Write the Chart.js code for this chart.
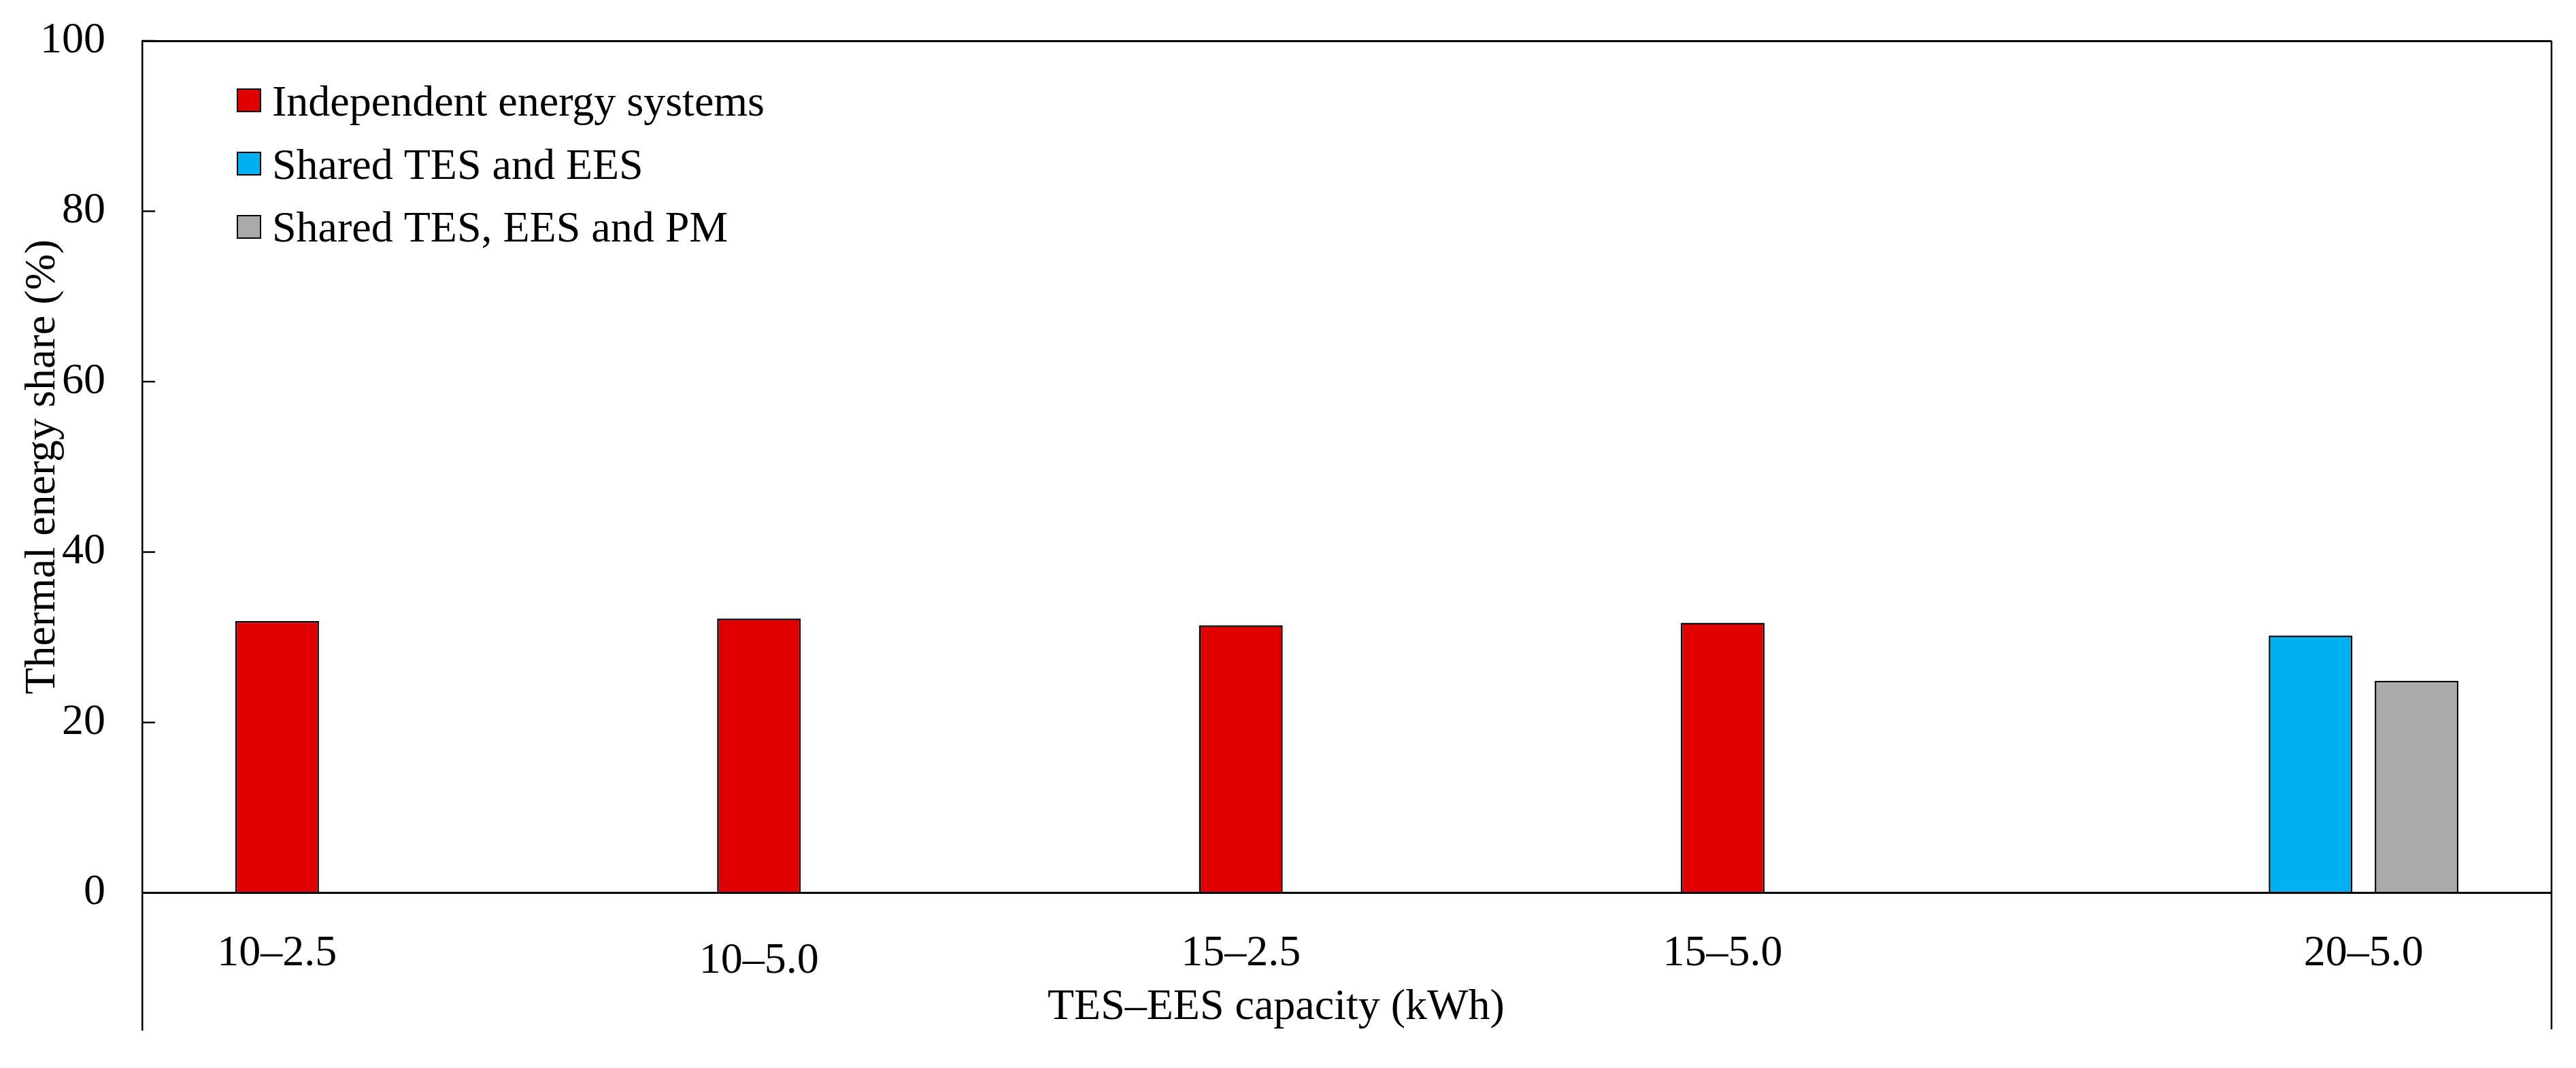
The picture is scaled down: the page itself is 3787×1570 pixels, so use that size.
<!DOCTYPE HTML>
<html>
<head>
	<title>Thermal energy share</title>
	<meta charset="utf-8" />
	<script src="https://cdn.jsdelivr.net/npm/chart.js"></script>
	<style>
		html, body { margin: 0; padding: 0; background: #fff; }
		canvas { display: block; }
	</style>
</head>
<body>
	<canvas id="shareChart" width="3787" height="1570"></canvas>
	<script>
		// values
		const categories = ['10\u20132.5', '10\u20135.0', '15\u20132.5', '15\u20135.0', '20\u20135.0'];
		const independentSystems = [31.9, 32.2, 31.4, 31.7, null];
		const sharedTesEes = [null, null, null, null, 30.2];
		const sharedTesEesPm = [null, null, null, null, 24.9];
		const yTicks = [0, 20, 40, 60, 80, 100];

		const FONT = '64px "Liberation Serif", "Times New Roman", serif';

		// category labels sit under the bars that actually have a value
		const barLabels = {
			id: 'barLabels',
			afterDraw(chart, args, opts) {
				const { ctx } = chart;
				const y0 = chart.scales.y.getPixelForValue(0);
				ctx.save();
				ctx.font = FONT;
				ctx.fillStyle = '#000';
				ctx.textAlign = 'center';
				ctx.textBaseline = 'alphabetic';
				categories.forEach(function (label, i) {
					const xs = [];
					chart.data.datasets.forEach(function (ds, d) {
						if (ds.data[i] !== null) xs.push(chart.getDatasetMeta(d).data[i].x);
					});
					const x = xs.reduce((a, b) => a + b, 0) / xs.length;
					ctx.fillText(label, x, y0 + 106 + (opts.dy[i] || 0));
				});
				ctx.restore();
			}
		};

		const frameAndTitles = {
			id: 'frameAndTitles',
			afterDraw(chart) {
				const { ctx, chartArea } = chart;
				const yScale = chart.scales.y;
				ctx.save();
				ctx.strokeStyle = '#000';

				// inward tick marks on the left axis
				ctx.lineWidth = 2.5;
				yTicks.forEach(function (v) {
					const y = yScale.getPixelForValue(v);
					ctx.beginPath();
					ctx.moveTo(chartArea.left, y);
					ctx.lineTo(chartArea.left + 19, y);
					ctx.stroke();
				});

				// right border
				ctx.lineWidth = 2.5;
				ctx.beginPath();
				ctx.moveTo(chartArea.right, chartArea.top);
				ctx.lineTo(chartArea.right, chartArea.bottom);
				ctx.stroke();

				ctx.font = FONT;
				ctx.fillStyle = '#000';
				ctx.textBaseline = 'alphabetic';

				// x title
				ctx.textAlign = 'center';
				ctx.fillText('TES\u2013EES capacity (kWh)',
					chartArea.left + 0.4706 * (chartArea.right - chartArea.left), 1498);

				// y title, centred on the 0-100 range
				const yMid = (yScale.getPixelForValue(0) + yScale.getPixelForValue(100)) / 2;
				ctx.save();
				ctx.translate(80, yMid);
				ctx.rotate(-Math.PI / 2);
				ctx.fillText('Thermal energy share (%)', 0, 0);
				ctx.restore();

				// legend
				ctx.textAlign = 'left';
				ctx.lineWidth = 2;
				chart.data.datasets.forEach(function (ds, i) {
					const top = chartArea.top + 71 + i * 93;
					ctx.fillStyle = ds.backgroundColor;
					ctx.fillRect(chartArea.left + 140, top, 34, 33);
					ctx.strokeRect(chartArea.left + 140, top, 34, 33);
					ctx.fillStyle = '#000';
					ctx.fillText(ds.label, chartArea.left + 191, chartArea.top + 110 + i * 92.5);
				});
				ctx.restore();
			}
		};

		new Chart(document.getElementById('shareChart').getContext('2d'), {
			type: 'bar',
			data: {
				labels: categories,
				datasets: [
					{ label: 'Independent energy systems', data: independentSystems, backgroundColor: '#E00000' },
					{ label: 'Shared TES and EES', data: sharedTesEes, backgroundColor: '#00B0F0' },
					{ label: 'Shared TES, EES and PM', data: sharedTesEesPm, backgroundColor: '#AAAAAA' }
				]
			},
			options: {
				responsive: false,
				animation: false,
				devicePixelRatio: 1,
				layout: { padding: { top: 60, right: 36, left: 0, bottom: 0 } },
				datasets: {
					bar: {
						borderColor: '#000',
						borderWidth: 2.5,
						barPercentage: 0.79,
						categoryPercentage: 0.66
					}
				},
				plugins: {
					legend: { display: false },
					tooltip: { enabled: false },
					barLabels: { dy: [0, 11, 0, 0, 0] }
				},
				scales: {
					x: {
						ticks: { display: false },
						grid: { display: false },
						border: { display: false },
						afterFit(scale) {
							scale.height = 57;
							scale.paddingLeft = 0;
							scale.paddingRight = 0;
						}
					},
					y: {
						min: -16,
						max: 100,
						z: 1,
						afterBuildTicks(scale) { scale.ticks = yTicks.map(v => ({ value: v })); },
						afterFit(scale) {
							scale.width = 209;
							scale.paddingTop = 0;
							scale.paddingBottom = 0;
						},
						ticks: {
							color: '#000',
							font: { family: '"Liberation Serif", "Times New Roman", serif', size: 64 },
							padding: 54
						},
						grid: {
							drawTicks: false,
							color: c => (c.tick && (c.tick.value === 0 || c.tick.value === 100)) ? '#000' : 'rgba(0,0,0,0)',
							lineWidth: 3
						},
						border: { display: true, color: '#000', width: 2.5 }
					}
				}
			},
			plugins: [barLabels, frameAndTitles]
		});
	</script>
</body>
</html>
